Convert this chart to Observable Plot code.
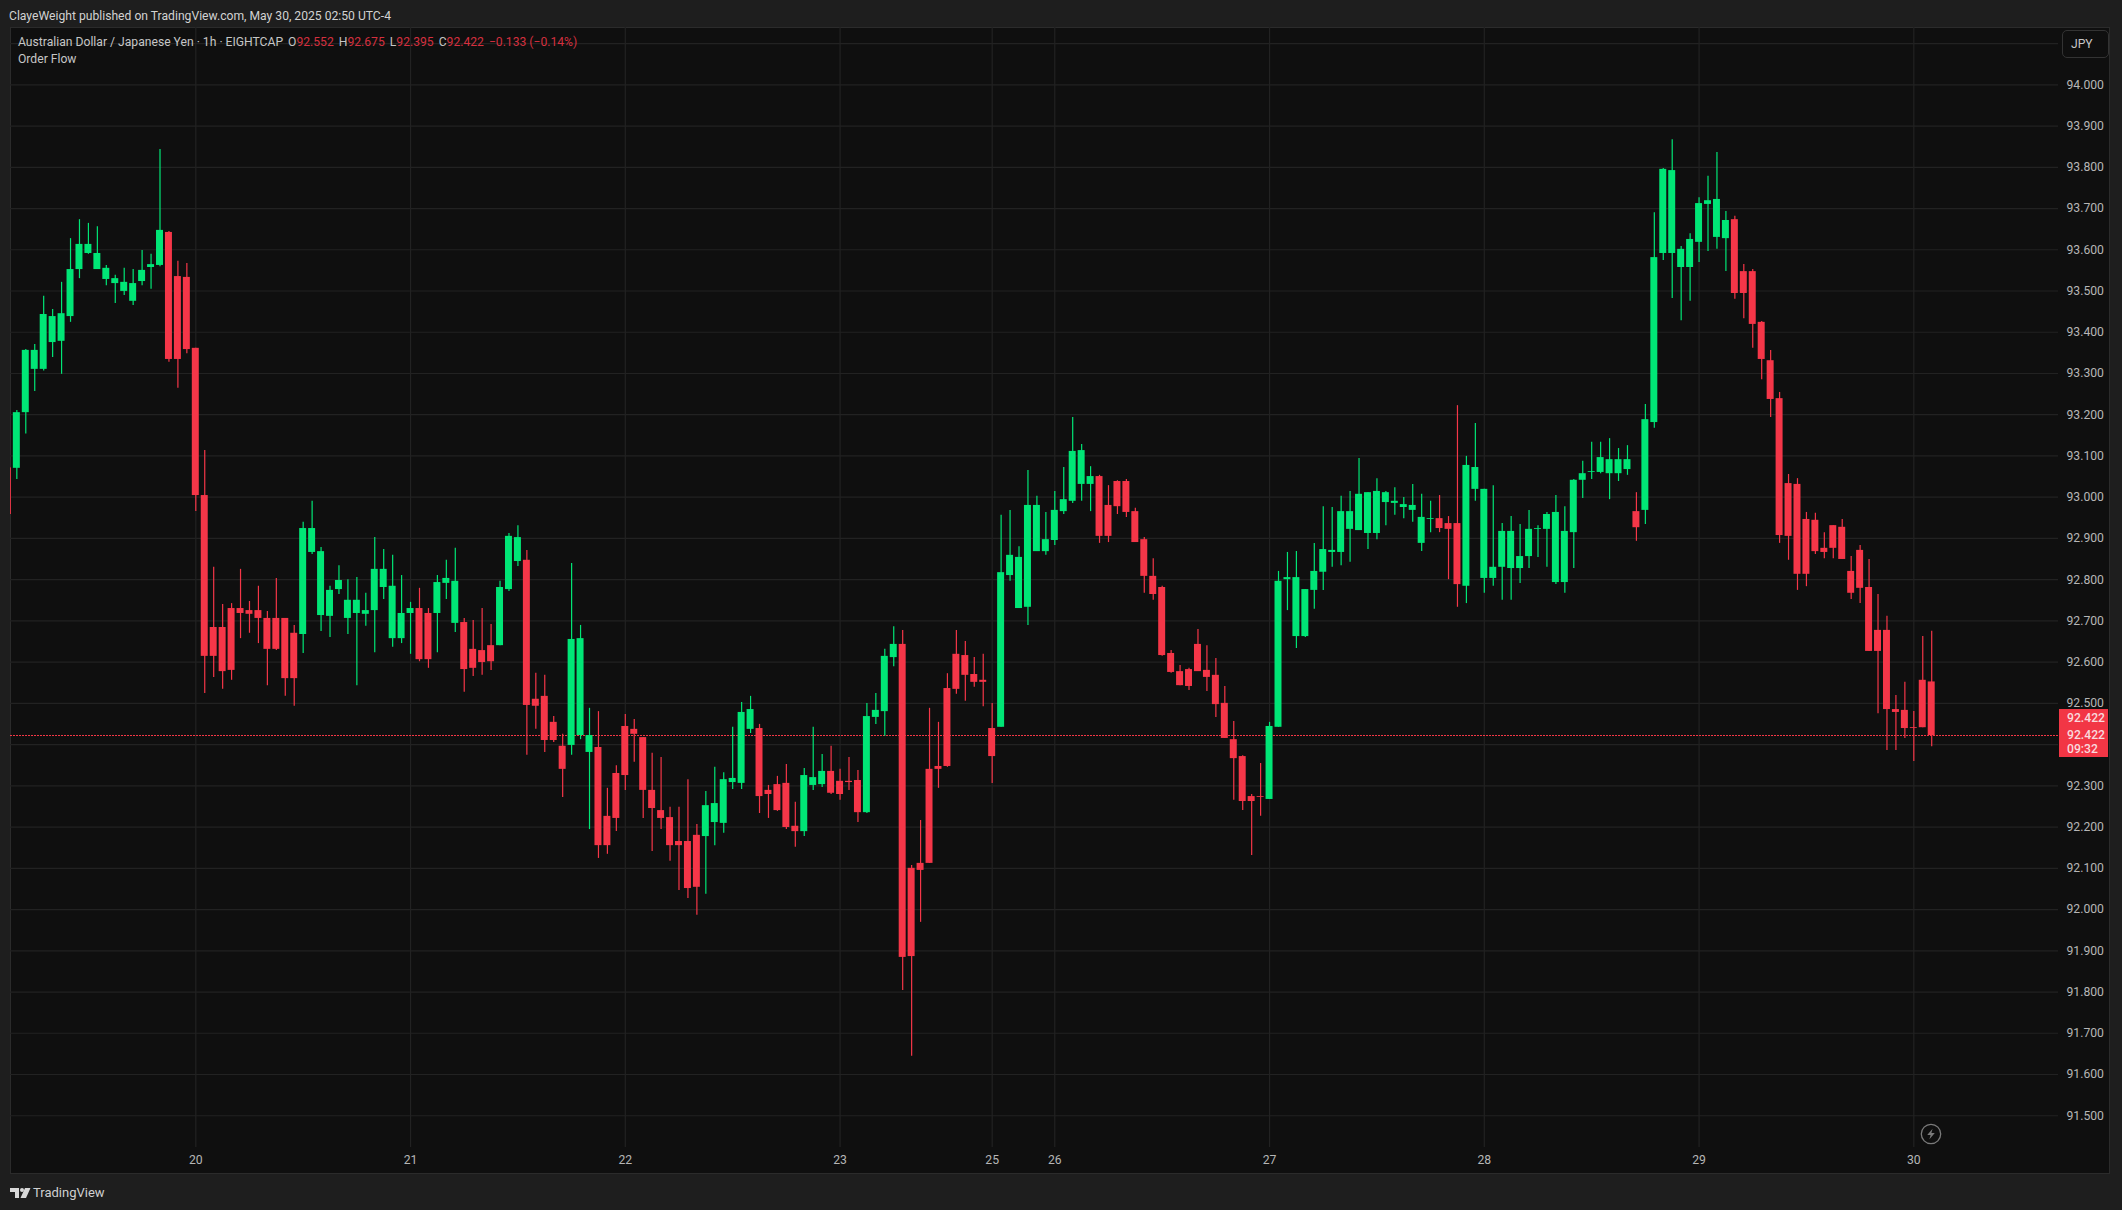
<!DOCTYPE html>
<html><head><meta charset="utf-8">
<script src="https://cdn.jsdelivr.net/npm/d3@7"></script>
<script src="https://cdn.jsdelivr.net/npm/@observablehq/plot@0.6"></script>
<style>
html,body{margin:0;padding:0;background:#1e1e1e;width:2122px;height:1210px;overflow:hidden;font-family:Roboto,sans-serif;}
#pane{position:absolute;left:10px;top:27px;width:2100px;height:1147px;background:#0f0f0f;border:1px solid #2b2b2b;box-sizing:border-box;}
#chart{position:absolute;left:0;top:0;}
#chart svg{background:transparent!important;display:block;}
.t{position:absolute;white-space:pre;font-size:12.15px;line-height:16px;color:#c6c6c6;}
.r{color:#d5303f;}
.g{margin-left:5px;}
#box{position:absolute;left:2059px;top:709px;width:49px;height:48px;background:#f23645;}
#box div{position:absolute;left:8px;font-size:12.2px;line-height:14px;color:#f9dadd;font-weight:500;}
</style></head><body>
<div id="pane"></div>
<div id="chart"></div>
<div class="t" style="left:9px;top:8px;color:#d2d2d2">ClayeWeight published on TradingView.com, May 30, 2025 02:50 UTC-4</div>
<div class="t" style="left:18px;top:34px">Australian Dollar / Japanese Yen · 1h · EIGHTCAP<span class="g">O</span><span class="r">92.552</span><span class="g">H</span><span class="r">92.675</span><span class="g">L</span><span class="r">92.395</span><span class="g">C</span><span class="r">92.422</span><span class="r g">−0.133 (−0.14%)</span></div>
<div class="t" style="left:18px;top:51px">Order Flow</div>
<div class="t" style="left:2062px;top:30px;width:45px;height:26px;border:1px solid #333;border-radius:5px;line-height:26px;text-indent:8px;box-sizing:content-box;">JPY</div>
<div id="box"><div style="top:2px">92.422</div><div style="top:19px">92.422</div><div style="top:33px">09:32</div></div>
<svg style="position:absolute;left:1920px;top:1123px" width="22" height="22" viewBox="0 0 22 22"><circle cx="11" cy="11" r="9.7" fill="none" stroke="#7a7a7a" stroke-width="1.3"/><path d="M12.6 5.8 L7.2 12 L10.6 12 L9.4 16.2 L14.8 10 L11.4 10 Z" fill="#7a7a7a"/></svg>
<svg style="position:absolute;left:10px;top:1187px" width="21" height="12" viewBox="0 0 21 12"><path d="M0 1 H9 V11 H5 V5 H0 Z M15 1 H20.5 L16 11 H10.5 Z" fill="#d8d8d8"/><circle cx="12" cy="3" r="2" fill="#d8d8d8"/></svg>
<div class="t" style="left:33px;top:1185px;font-size:13px;color:#d0d0d0;">TradingView</div>
<script>
const firstIndex = -1;
const opens = [
93.071,93.070,93.205,93.310,93.310,93.375,93.378,93.438,93.552,93.591,
93.552,93.528,93.518,93.499,93.475,93.523,93.557,93.562,93.642,93.535,
93.533,93.361,93.004,92.684,92.684,92.730,92.730,92.725,92.725,92.706,
92.706,92.706,92.670,92.667,92.866,92.713,92.711,92.776,92.706,92.718,
92.716,92.725,92.781,92.657,92.657,92.718,92.730,92.718,92.718,92.791,
92.694,92.696,92.631,92.628,92.640,92.640,92.776,92.844,92.847,92.510,
92.517,92.454,92.396,92.398,92.422,92.381,92.393,92.226,92.330,92.444,
92.437,92.417,92.289,92.240,92.223,92.165,92.165,92.180,92.177,92.211,
92.209,92.308,92.306,92.437,92.439,92.289,92.303,92.306,92.202,92.189,
92.301,92.303,92.335,92.311,92.311,92.313,92.235,92.466,92.480,92.611,
92.643,92.100,92.112,92.340,92.347,92.536,92.619,92.616,92.570,92.556,
92.439,92.442,92.810,92.730,92.733,92.868,92.868,92.895,92.965,92.990,
93.031,93.031,93.050,92.980,93.038,93.038,92.965,92.897,92.808,92.781,
92.621,92.577,92.582,92.643,92.580,92.568,92.500,92.412,92.371,92.274,
92.274,92.267,92.442,92.800,92.662,92.662,92.774,92.818,92.866,92.866,
92.922,92.919,92.912,92.912,92.987,92.985,92.975,92.968,92.888,92.946,
92.948,92.936,92.936,92.784,93.019,92.803,92.803,92.830,92.827,92.827,
92.856,92.922,92.922,92.793,92.793,92.914,93.041,93.060,93.060,93.057,
93.057,93.067,92.965,92.968,93.181,93.591,93.591,93.557,93.557,93.618,
93.710,93.630,93.627,93.673,93.547,93.547,93.424,93.331,93.239,93.033,
93.031,92.946,92.944,92.876,92.931,92.927,92.820,92.871,92.781,92.677,
92.677,92.485,92.483,92.441,92.556,92.552];
const highs = [
93.071,93.210,93.358,93.370,93.487,93.455,93.521,93.627,93.673,93.664,
93.656,93.562,93.538,93.555,93.552,93.598,93.589,93.843,93.644,93.572,
93.567,93.361,93.113,92.830,92.740,92.742,92.825,92.747,92.784,92.723,
92.803,92.706,92.689,92.939,92.990,92.878,92.784,92.834,92.800,92.805,
92.767,92.902,92.873,92.859,92.810,92.745,92.779,92.730,92.810,92.847,
92.876,92.706,92.701,92.730,92.691,92.796,92.912,92.931,92.871,92.573,
92.568,92.468,92.425,92.839,92.689,92.488,92.480,92.294,92.349,92.473,
92.461,92.417,92.379,92.369,92.248,92.248,92.315,92.206,92.286,92.345,
92.332,92.442,92.502,92.517,92.449,92.301,92.323,92.352,92.260,92.342,
92.442,92.376,92.396,92.340,92.369,92.337,92.500,92.524,92.631,92.686,
92.677,92.107,92.216,92.488,92.454,92.572,92.677,92.650,92.611,92.619,
92.500,92.956,92.968,92.880,93.065,93.002,92.963,93.014,93.072,93.193,
93.128,93.074,93.053,93.028,93.040,93.043,92.973,92.902,92.851,92.784,
92.628,92.592,92.585,92.679,92.640,92.609,92.541,92.456,92.373,92.279,
92.354,92.454,92.820,92.866,92.868,92.776,92.888,92.977,92.975,93.002,
93.014,93.094,93.011,93.045,93.014,93.023,92.999,93.031,93.007,92.990,
93.004,92.953,93.222,93.099,93.179,93.019,93.028,92.936,92.953,92.934,
92.968,92.931,92.963,93.004,92.977,93.043,93.087,93.133,93.133,93.142,
93.118,93.125,93.011,93.225,93.690,93.797,93.867,93.608,93.639,93.726,
93.778,93.836,93.693,93.681,93.564,93.552,93.426,93.356,93.254,93.055,
93.045,92.963,92.961,92.914,92.931,92.946,92.856,92.883,92.849,92.764,
92.711,92.519,92.551,92.480,92.662,92.675];
const lows = [
92.958,93.043,93.153,93.256,93.306,93.339,93.298,93.424,93.530,93.589,
93.552,93.513,93.470,93.489,93.465,93.513,93.504,93.559,93.327,93.264,
93.348,92.965,92.524,92.563,92.534,92.556,92.657,92.670,92.645,92.543,
92.628,92.517,92.493,92.621,92.861,92.674,92.660,92.764,92.667,92.543,
92.687,92.623,92.752,92.636,92.645,92.619,92.601,92.585,92.623,92.752,
92.672,92.527,92.565,92.568,92.580,92.640,92.771,92.832,92.374,92.437,
92.381,92.405,92.272,92.374,92.412,92.194,92.124,92.134,92.189,92.289,
92.357,92.221,92.141,92.194,92.117,92.046,92.027,91.986,92.037,92.155,
92.185,92.291,92.291,92.427,92.233,92.221,92.238,92.194,92.151,92.177,
92.289,92.296,92.279,92.265,92.289,92.211,92.233,92.449,92.420,92.589,
91.804,91.644,91.969,92.112,92.294,92.345,92.522,92.505,92.539,92.492,
92.306,92.442,92.796,92.730,92.689,92.868,92.859,92.883,92.958,92.985,
92.990,92.965,92.888,92.890,92.958,92.951,92.890,92.767,92.750,92.614,
92.573,92.543,92.531,92.577,92.529,92.466,92.415,92.265,92.240,92.131,
92.226,92.267,92.442,92.725,92.633,92.660,92.728,92.774,92.830,92.834,
92.842,92.919,92.873,92.897,92.931,92.956,92.948,92.939,92.868,92.914,
92.914,92.800,92.733,92.742,92.990,92.767,92.784,92.750,92.750,92.791,
92.827,92.854,92.830,92.788,92.767,92.827,92.997,93.043,93.057,92.994,
93.038,93.053,92.893,92.934,93.167,93.574,93.482,93.428,93.475,93.569,
93.596,93.601,93.547,93.480,93.433,93.361,93.285,93.193,92.888,92.847,
92.774,92.783,92.861,92.851,92.851,92.849,92.752,92.742,92.626,92.475,
92.386,92.386,92.415,92.359,92.441,92.395];
const closes = [
92.958,93.205,93.356,93.356,93.443,93.438,93.445,93.552,93.613,93.613,
93.591,93.555,93.530,93.521,93.518,93.550,93.564,93.647,93.334,93.334,
93.358,93.004,92.614,92.614,92.577,92.580,92.718,92.716,92.706,92.631,
92.631,92.560,92.560,92.924,92.924,92.868,92.774,92.798,92.750,92.750,
92.725,92.825,92.825,92.784,92.718,92.730,92.606,92.606,92.793,92.803,
92.796,92.582,92.585,92.599,92.601,92.781,92.905,92.902,92.495,92.493,
92.410,92.410,92.340,92.655,92.657,92.422,92.155,92.155,92.221,92.325,
92.425,92.289,92.245,92.221,92.155,92.155,92.051,92.054,92.252,92.257,
92.315,92.318,92.478,92.485,92.274,92.279,92.240,92.199,92.189,92.325,
92.320,92.335,92.282,92.279,92.308,92.235,92.468,92.483,92.614,92.643,
91.884,91.886,92.095,92.112,92.340,92.347,92.534,92.568,92.551,92.551,
92.371,92.817,92.859,92.854,92.980,92.980,92.897,92.968,92.994,93.111,
93.113,93.050,92.905,92.905,92.977,92.963,92.890,92.808,92.764,92.616,
92.575,92.543,92.541,92.577,92.563,92.497,92.415,92.366,92.262,92.262,
92.272,92.444,92.796,92.805,92.805,92.776,92.820,92.873,92.871,92.965,
92.965,93.007,93.011,93.014,93.011,92.990,92.982,92.980,92.951,92.948,
92.924,92.922,92.788,93.077,93.072,93.019,92.830,92.917,92.917,92.856,
92.922,92.924,92.958,92.963,92.917,93.041,93.057,93.062,93.096,93.091,
93.091,93.091,92.926,93.188,93.581,93.795,93.792,93.601,93.625,93.712,
93.719,93.722,93.671,93.494,93.494,93.419,93.334,93.237,92.907,92.905,
92.813,92.813,92.868,92.866,92.876,92.849,92.767,92.779,92.626,92.626,
92.485,92.478,92.439,92.439,92.441,92.422];

const dayIndex = [20,44,68,92,109,116,140,164,188,212];
const dayLabels = ["20","21","22","23","25","26","27","28","29","30"];
const gridPrices = [91.5,91.6,91.7,91.8,91.9,92.0,92.1,92.2,92.3,92.4,92.5,92.6,92.7,92.8,92.9,93.0,93.1,93.2,93.3,93.4,93.5,93.6,93.7,93.8,93.9,94.0,94.1];
const labelPrices = [91.5,91.6,91.7,91.8,91.9,92.0,92.1,92.2,92.3,92.5,92.6,92.7,92.8,92.9,93.0,93.1,93.2,93.3,93.4,93.5,93.6,93.7,93.8,93.9,94.0];
const lastPrice = 92.422;

const up = "#00e676", down = "#f53648", grid = "#222222", axisText = "#b6b6b6";
const bars = opens.map((o,k)=>({i:k+firstIndex,open:o,high:highs[k],low:lows[k],close:closes[k],color:closes[k]>=o?up:down}));
const font = "Roboto, sans-serif";

const plot = Plot.plot({
  width:2122,height:1210,
  marginLeft:10,marginRight:64,marginTop:27,marginBottom:63,
  style:{background:"transparent",fontFamily:font},
  x:{type:"linear",domain:[-0.708,228.17]},
  y:{type:"linear",domain:[91.423,94.139]},
  color:{type:"identity"},
  marks:[
    Plot.ruleY(gridPrices,{stroke:grid,strokeWidth:1.2}),
    Plot.ruleX(dayIndex,{stroke:grid,strokeWidth:1.2}),
    Plot.ruleY([lastPrice],{stroke:"#f23645",strokeWidth:1,strokeDasharray:"2 1",shapeRendering:"crispEdges",dy:-0.5}),
    Plot.ruleX(bars,{x:"i",y1:"low",y2:"high",stroke:"color",strokeWidth:1.2,clip:true}),
    Plot.rect(bars,{x1:d=>d.i-0.39,x2:d=>d.i+0.39,y1:"open",y2:"close",fill:"color",clip:true}),
    Plot.axisY({anchor:"right",ticks:labelPrices,tickSize:0,tickPadding:8,tickFormat:d=>d.toFixed(3),color:axisText,fontSize:12.2,fontFamily:font,label:null}),
    Plot.axisX({anchor:"bottom",ticks:dayIndex,tickSize:0,tickPadding:8,tickFormat:d=>dayLabels[dayIndex.indexOf(d)],color:axisText,fontSize:12.2,fontFamily:font,label:null})
  ]
});
document.getElementById("chart").appendChild(plot);
</script>
</body></html>
